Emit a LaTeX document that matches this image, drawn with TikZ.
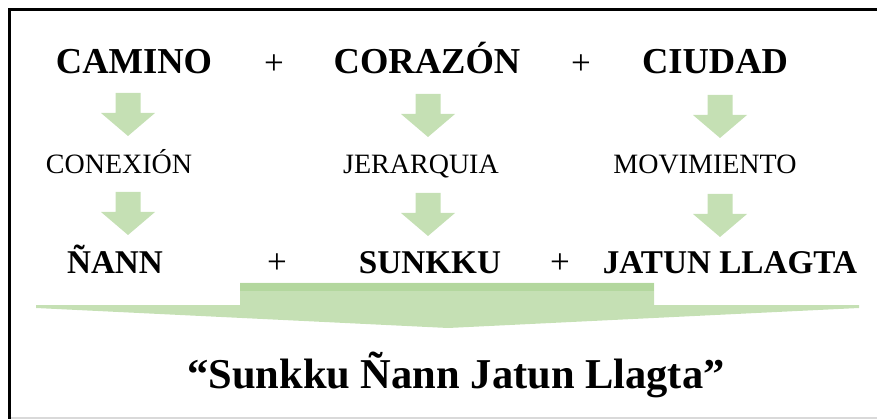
\documentclass[tikz,border=0pt]{standalone}
\usepackage{fontspec}
\setmainfont{Liberation Serif}
\usepackage{tikz}
\definecolor{leafgreen}{HTML}{C5E0B4}
\definecolor{leafdark}{HTML}{B3D79E}
% block arrow pointing down: #1 = centre x, #2 = top y
\newcommand{\greenarrow}[2]{%
  \fill[leafgreen] (#1-12.5,#2) -- (#1+12.5,#2) -- (#1+12.5,#2+20)
    -- (#1+27,#2+20) -- (#1,#2+43) -- (#1-27,#2+20) -- (#1-12.5,#2+20) -- cycle;}

\begin{document}
\begin{tikzpicture}[x=1pt,y=-1pt,
  bigword/.style={anchor=base,inner sep=0pt,font=\bfseries\fontsize{36.5}{36}\selectfont},
  midword/.style={anchor=base,inner sep=0pt,font=\fontsize{28}{28}\selectfont},
  lowword/.style={anchor=base,inner sep=0pt,font=\bfseries\fontsize{33.2}{33}\selectfont},
  plus/.style={anchor=base,inner sep=0pt,font=\fontsize{35}{35}\selectfont}]
  \useasboundingbox (0,0) rectangle (877,419);
  % frame
  \draw[black!15,line width=1.2pt] (10,418) -- (877,418);
  \draw[line width=3pt] (9.5,419) -- (9.5,10) -- (877,10);
  % first row
  \node[bigword] (camino)  at (134,74) {CAMINO};
  \node[plus]    (plusA)   at (274,75) {+};
  \node[bigword] (corazon) at (427,74) {CORAZÓN};
  \node[plus]    (plusB)   at (581,75) {+};
  \node[bigword] (ciudad)  at (715,74) {CIUDAD};
  % meanings
  \node[midword] (conexion)   at (119,174) {CONEXIÓN};
  \node[midword] (jerarquia)  at (421,174) {JERARQUIA};
  \node[midword] (movimiento) at (705,174) {MOVIMIENTO};
  % quechua words
  \node[lowword] (nann)   at (115,273) {ÑANN};
  \node[plus]    (plusC)  at (277,274) {+};
  \node[lowword] (sunkku) at (430,273) {SUNKKU};
  \node[plus]    (plusD)  at (560,274) {+};
  \node[lowword] (jatun)  at (730,273) {JATUN LLAGTA};
  % small arrows
  \greenarrow{128}{93}  \greenarrow{428}{94}  \greenarrow{720}{95}
  \greenarrow{128}{192} \greenarrow{428}{193} \greenarrow{720}{194}
  % wide arrow
  \fill[leafgreen] (36,305) -- (240,305) -- (240,283) -- (654,283) -- (654,305)
    -- (859,305) -- (859,308) -- (448,328) -- (36,308) -- cycle;
  \fill[leafdark] (240,283) rectangle (654,291);
  % name
  \node[anchor=base,inner sep=0pt,font=\bfseries\fontsize{42.5}{42}\selectfont]
    (name) at (456,388) {“Sunkku Ñann Jatun Llagta”};
\end{tikzpicture}
\end{document}
